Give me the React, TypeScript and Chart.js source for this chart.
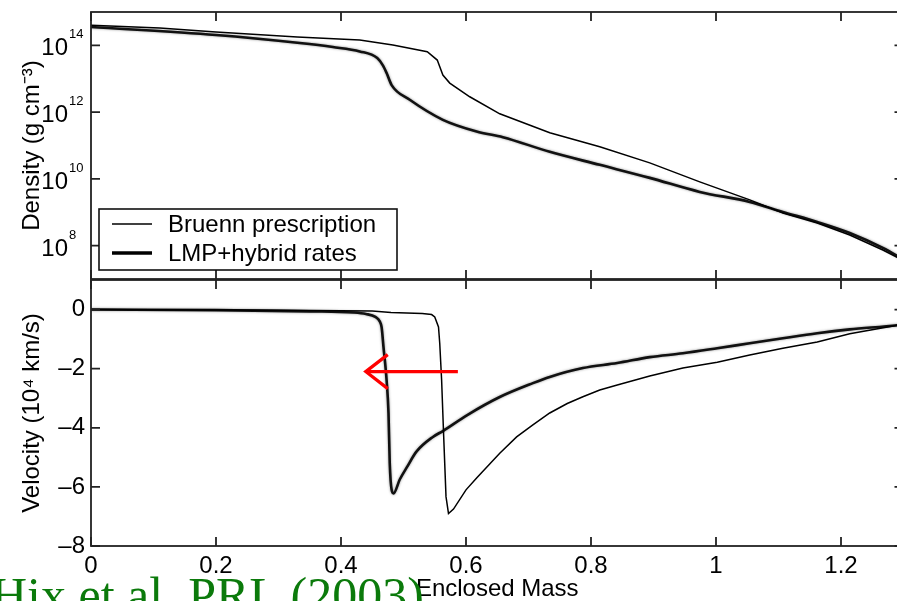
import React, { useEffect, useRef } from 'react';
import { Chart, registerables } from 'chart.js';

Chart.register(...registerables);

const SANS = '"Liberation Sans", Arial, Helvetica, sans-serif';

// ---- tick values ----
const massTicks = [0, 0.2, 0.4, 0.6, 0.8, 1, 1.2];
const densityTickExponents = [8, 10, 12, 14];
const velocityTicks = [-8, -6, -4, -2, 0];

// ---- series labels ----
const seriesLabels = ['Bruenn prescription', 'LMP+hybrid rates'];

// ---- density (log10 g cm^-3) vs enclosed mass ----
const densMassBruenn = [0, 0.11, 0.2, 0.33, 0.43, 0.483, 0.538, 0.554, 0.563, 0.574, 0.606, 0.654, 0.734, 0.814, 0.894, 0.974, 1.054, 1.107, 1.162, 1.214, 1.267, 1.3];
const densLogBruenn = [14.6, 14.52, 14.4, 14.25, 14.16, 14.01, 13.81, 13.56, 13.11, 12.87, 12.46, 11.95, 11.38, 10.96, 10.48, 9.91, 9.37, 8.98, 8.68, 8.32, 7.87, 7.55];

const densMassLMP = [0, 0.2, 0.334, 0.387, 0.43, 0.458, 0.467, 0.473, 0.481, 0.51, 0.563, 0.617, 0.659, 0.734, 0.814, 0.894, 0.974, 1.054, 1.107, 1.162, 1.214, 1.267, 1.3];
const densLogLMP = [14.55, 14.31, 14.07, 13.95, 13.82, 13.62, 13.4, 13.17, 12.81, 12.37, 11.77, 11.42, 11.25, 10.81, 10.42, 10.03, 9.61, 9.31, 9.01, 8.71, 8.38, 7.93, 7.58];

// ---- velocity (10^4 km/s) vs enclosed mass ----
const velMassBruenn = [0, 0.3, 0.45, 0.48, 0.53, 0.545, 0.55, 0.556, 0.558, 0.561, 0.564, 0.568, 0.572, 0.58, 0.6, 0.617, 0.654, 0.681, 0.707, 0.734, 0.762, 0.787, 0.814, 0.842, 0.894, 0.947, 1.002, 1.054, 1.107, 1.162, 1.214, 1.29, 1.3];
const velBruenn = [0, -0.02, -0.05, -0.1, -0.13, -0.17, -0.25, -0.59, -1.15, -2.39, -4.13, -6.33, -6.9, -6.75, -6.1, -5.7, -4.86, -4.31, -3.9, -3.5, -3.18, -2.95, -2.72, -2.55, -2.25, -1.98, -1.78, -1.54, -1.31, -1.1, -0.82, -0.53, -0.5];

const velMassLMP = [0, 0.2, 0.35, 0.42, 0.44, 0.455, 0.462, 0.465, 0.468, 0.473, 0.476, 0.478, 0.481, 0.484, 0.494, 0.505, 0.521, 0.547, 0.563, 0.602, 0.654, 0.707, 0.734, 0.787, 0.842, 0.894, 0.947, 1.002, 1.054, 1.107, 1.162, 1.214, 1.29, 1.3];
const velLMP = [0, -0.02, -0.06, -0.1, -0.15, -0.25, -0.4, -0.6, -1.27, -2.4, -3.5, -5.2, -6.1, -6.22, -5.75, -5.35, -4.8, -4.31, -4.11, -3.57, -2.96, -2.49, -2.28, -1.98, -1.81, -1.61, -1.48, -1.31, -1.14, -0.97, -0.8, -0.67, -0.53, -0.5];

// ---- annotation arrow (data coords) ----
const arrowMass = [0.587, 0.438];
const arrowVelocity = -2.1;

const zip = (xs: number[], ys: number[], f: (v: number) => number = (v) => v) =>
  xs.map((x, i) => ({ x, y: f(ys[i]) }));

const frameTicks = {
  id: 'frameTicks',
  afterDatasetsDraw(chart: any, _args: any, opts: any) {
    const { ctx, chartArea } = chart;
    const { left, right, top, bottom } = chartArea;
    const xs = chart.scales.x;
    const ys = chart.scales.y;
    ctx.save();
    ctx.strokeStyle = '#222';
    ctx.lineWidth = 1.8;
    ctx.strokeRect(left, top, right - left, bottom - top);
    const L = 9;
    ctx.beginPath();
    (opts.xTicks || []).forEach((v: number) => {
      const px = xs.getPixelForValue(v);
      ctx.moveTo(px, top);
      ctx.lineTo(px, top + L);
      ctx.moveTo(px, bottom);
      ctx.lineTo(px, bottom - L);
    });
    (opts.yTicks || []).forEach((v: number) => {
      const py = ys.getPixelForValue(v);
      ctx.moveTo(left, py);
      ctx.lineTo(left + L, py);
      ctx.moveTo(right, py);
      ctx.lineTo(right - L, py);
    });
    ctx.stroke();
    ctx.restore();
  },
};

// power-of-ten labels "10" + raised exponent, placed at the log scale's ticks
const powerLabels = {
  id: 'powerLabels',
  afterDraw(chart: any, _args: any, opts: any) {
    if (!opts || !opts.show) return;
    const { ctx, chartArea } = chart;
    const ys = chart.scales.y;
    ctx.save();
    ctx.fillStyle = '#000';
    ctx.textBaseline = 'alphabetic';
    ys.ticks.forEach((t: any) => {
      const py = ys.getPixelForValue(t.value);
      const exp = String(Math.round(Math.log10(t.value)));
      const xa = chartArea.left - 23;
      ctx.textAlign = 'right';
      ctx.font = `24px ${SANS}`;
      ctx.fillText('10', xa, py + 10);
      ctx.textAlign = 'left';
      ctx.font = `13px ${SANS}`;
      ctx.fillText(exp, xa + 1, py - 7);
    });
    ctx.restore();
  },
};

const haloPlugin = {
  id: 'halo',
  beforeDatasetDraw(chart: any, args: any) {
    const ctx = chart.ctx;
    ctx.save();
    if (args.index === 1) {
      ctx.shadowColor = 'rgba(0,0,0,0.45)';
      ctx.shadowBlur = 2.5;
    }
  },
  afterDatasetDraw(chart: any) {
    chart.ctx.restore();
  },
};

const boxLegend = {
  id: 'boxLegend',
  afterDraw(chart: any, _args: any, opts: any) {
    if (!opts || !opts.show) return;
    const { ctx, chartArea } = chart;
    const x0 = chartArea.left + 8;
    const y0 = chartArea.top + 197;
    const w = 298;
    const h = 61;
    ctx.save();
    ctx.fillStyle = '#fff';
    ctx.fillRect(x0, y0, w, h);
    ctx.strokeStyle = '#111';
    ctx.lineWidth = 1.6;
    ctx.strokeRect(x0, y0, w, h);
    chart.data.datasets.forEach((ds: any, i: number) => {
      const cy = y0 + 15 + i * 29;
      ctx.beginPath();
      ctx.strokeStyle = '#000';
      ctx.lineWidth = i === 0 ? 1.5 : 3.5;
      ctx.moveTo(x0 + 13, cy);
      ctx.lineTo(x0 + 53, cy);
      ctx.stroke();
      ctx.fillStyle = '#000';
      ctx.font = `24px ${SANS}`;
      ctx.textBaseline = 'middle';
      ctx.textAlign = 'left';
      ctx.fillText(ds.label, x0 + 69, cy + 1);
    });
    ctx.restore();
  },
};

const arrowPlugin = {
  id: 'arrow',
  afterDatasetsDraw(chart: any, _args: any, opts: any) {
    if (!opts || !opts.from) return;
    const { ctx } = chart;
    const xs = chart.scales.x;
    const ys = chart.scales.y;
    const x1 = xs.getPixelForValue(opts.from[0]);
    const x2 = xs.getPixelForValue(opts.to[0]);
    const y = ys.getPixelForValue(opts.y);
    ctx.save();
    ctx.strokeStyle = '#ff0000';
    ctx.lineWidth = 3.2;
    ctx.lineCap = 'butt';
    ctx.beginPath();
    ctx.moveTo(x1, y);
    ctx.lineTo(x2 + 2, y);
    ctx.stroke();
    ctx.beginPath();
    ctx.moveTo(x2 + 23, y - 17);
    ctx.lineTo(x2 + 1, y);
    ctx.lineTo(x2 + 23, y + 17);
    ctx.stroke();
    ctx.restore();
  },
};

const zeroPad = (s: any) => {
  s.paddingTop = 0;
  s.paddingBottom = 0;
  s.paddingLeft = 0;
  s.paddingRight = 0;
};

const CANVAS_W = 912;
const RIGHT_PAD = 8.5;

export default function App() {
  const topRef = useRef<HTMLCanvasElement>(null);
  const botRef = useRef<HTMLCanvasElement>(null);

  useEffect(() => {
    const tickFont = { family: SANS, size: 24 };
    const titleFont = { family: SANS, size: 24 };

    const top = new Chart(topRef.current as HTMLCanvasElement, {
      type: 'line',
      data: {
        datasets: [
          {
            label: seriesLabels[0],
            data: zip(densMassBruenn, densLogBruenn, (v) => Math.pow(10, v)),
            borderColor: '#000',
            borderWidth: 1.5,
            pointRadius: 0,
            tension: 0,
          },
          {
            label: seriesLabels[1],
            data: zip(densMassLMP, densLogLMP, (v) => Math.pow(10, v)),
            borderColor: '#111',
            borderWidth: 2.6,
            pointRadius: 0,
            cubicInterpolationMode: 'monotone',
          },
        ],
      },
      options: {
        animation: false,
        responsive: false,
        maintainAspectRatio: false,
        layout: { padding: { top: 12, right: RIGHT_PAD, bottom: 2, left: 0 } },
        plugins: {
          legend: { display: false },
          tooltip: { enabled: false },
          frameTicks: { xTicks: massTicks, yTicks: densityTickExponents.map((e) => Math.pow(10, e)) },
          boxLegend: { show: true },
          powerLabels: { show: true },
        } as any,
        scales: {
          x: {
            type: 'linear',
            min: 0,
            max: 1.3,
            display: false,
          },
          y: {
            type: 'logarithmic',
            min: 1e7,
            max: 1e15,
            grid: { display: false, drawTicks: false },
            border: { display: false },
            afterBuildTicks: (s: any) => {
              s.ticks = densityTickExponents.map((e) => ({ value: Math.pow(10, e) }));
            },
            afterFit: (s: any) => {
              s.width = 91;
              zeroPad(s);
            },
            ticks: { display: false },
            title: {
              display: true,
              text: 'Density (g cm⁻³)',
              color: '#000',
              font: titleFont,
              padding: { top: 18, bottom: 0 },
            },
          },
        },
      },
      plugins: [haloPlugin, frameTicks, boxLegend, powerLabels],
    } as any);

    const bot = new Chart(botRef.current as HTMLCanvasElement, {
      type: 'line',
      data: {
        datasets: [
          {
            label: seriesLabels[0],
            data: zip(velMassBruenn, velBruenn),
            borderColor: '#000',
            borderWidth: 1.5,
            pointRadius: 0,
            tension: 0,
          },
          {
            label: seriesLabels[1],
            data: zip(velMassLMP, velLMP),
            borderColor: '#111',
            borderWidth: 2.6,
            pointRadius: 0,
            cubicInterpolationMode: 'monotone',
          },
        ],
      },
      options: {
        animation: false,
        responsive: false,
        maintainAspectRatio: false,
        layout: { padding: { top: 10, right: RIGHT_PAD, bottom: 0, left: 0 } },
        plugins: {
          legend: { display: false },
          tooltip: { enabled: false },
          frameTicks: { xTicks: massTicks, yTicks: velocityTicks },
          arrow: { from: [arrowMass[0], arrowVelocity], to: [arrowMass[1], arrowVelocity], y: arrowVelocity },
        } as any,
        scales: {
          x: {
            type: 'linear',
            min: 0,
            max: 1.3,
            grid: { display: false, drawTicks: false },
            border: { display: false },
            afterBuildTicks: (s: any) => {
              s.ticks = massTicks.map((v) => ({ value: v }));
            },
            afterFit: (s: any) => {
              s.height = 58;
              zeroPad(s);
            },
            ticks: {
              color: '#000',
              font: tickFont,
              padding: 6,
              maxRotation: 0,
              autoSkip: false,
              callback: (v: any) => String(Math.round(Number(v) * 10) / 10),
            },
            title: {
              display: true,
              text: 'Enclosed Mass',
              color: '#000',
              font: titleFont,
              padding: { top: 0, bottom: 0 },
            },
          },
          y: {
            type: 'linear',
            min: -8,
            max: 1,
            grid: { display: false, drawTicks: false },
            border: { display: false },
            afterBuildTicks: (s: any) => {
              s.ticks = velocityTicks.map((v) => ({ value: v }));
            },
            afterFit: (s: any) => {
              s.width = 91;
              zeroPad(s);
            },
            ticks: {
              color: '#000',
              font: tickFont,
              padding: 6,
              callback: (v: any) => (Number(v) < 0 ? '–' + Math.abs(Number(v)) : String(v)),
            },
            title: {
              display: true,
              text: 'Velocity (10⁴ km/s)',
              color: '#000',
              font: titleFont,
              padding: { top: 18, bottom: 0 },
            },
          },
        },
      },
      plugins: [haloPlugin, frameTicks, arrowPlugin],
    } as any);

    return () => {
      top.destroy();
      bot.destroy();
    };
  }, []);

  return (
    <div
      style={{
        position: 'fixed',
        left: 0,
        top: 0,
        width: 897,
        height: 601,
        overflow: 'hidden',
        background: '#fff',
      }}
    >
      <canvas
        ref={topRef}
        width={CANVAS_W}
        height={281}
        style={{ position: 'absolute', left: 0, top: 0, width: CANVAS_W, height: 281 }}
      />
      <canvas
        ref={botRef}
        width={CANVAS_W}
        height={334}
        style={{ position: 'absolute', left: 0, top: 270, width: CANVAS_W, height: 334 }}
      />
      <div
        style={{
          position: 'absolute',
          left: -9,
          top: 570,
          fontFamily: '"Liberation Serif", "Times New Roman", serif',
          fontSize: 50,
          lineHeight: '50px',
          color: '#0b7a0b',
          whiteSpace: 'nowrap',
        }}
      >
        Hix et al. PRL (2003)
      </div>
    </div>
  );
}
